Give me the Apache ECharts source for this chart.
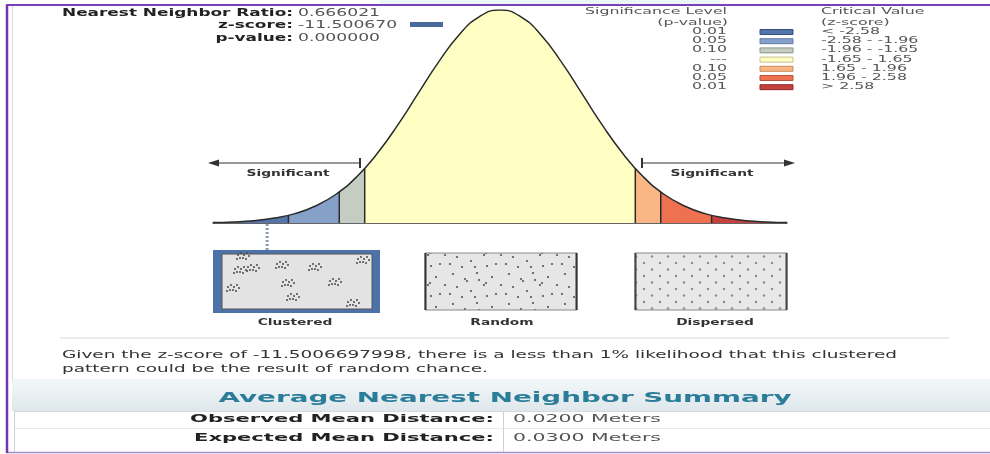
<!DOCTYPE html>
<html>
<head>
<meta charset="utf-8">
<title>Average Nearest Neighbor Summary</title>
<script src="https://cdn.jsdelivr.net/npm/echarts/dist/echarts.min.js"></script>
<style>
  html, body { margin: 0; padding: 0; background: #fff; }
  #chart { width: 990px; height: 454px; }
</style>
</head>
<body>
<div id="chart"></div>
<script>
const ratio = '0.666021';
const zScore = '-11.500670';
const pValue = '0.000000';
const zLong = '-11.5006697998';
const observedMean = '0.0200 Meters';
const expectedMean = '0.0300 Meters';

// normal curve, read at quarter steps of z (height relative to the peak)
const zSteps = [-3.5, -3.25, -3, -2.75, -2.5, -2.25, -2, -1.75, -1.5, -1.25, -1, -0.75, -0.5, -0.25, 0,
  0.25, 0.5, 0.75, 1, 1.25, 1.5, 1.75, 2, 2.25, 2.5, 2.75, 3, 3.25, 3.5];
const curveHeight = [0.002, 0.005, 0.011, 0.023, 0.044, 0.080, 0.135, 0.216, 0.325, 0.458, 0.607, 0.755, 0.883, 0.969, 1,
  0.969, 0.883, 0.755, 0.607, 0.458, 0.325, 0.216, 0.135, 0.080, 0.044, 0.023, 0.011, 0.005, 0.002];

// critical values and the curve height there
const zoneBreaks = [-2.58, -1.96, -1.65, 1.65, 1.96, 2.58];
const breakHeight = [0.036, 0.146, 0.256, 0.256, 0.146, 0.036];
const zMarker = -2.84; // pointer down to the "Clustered" picture

const sigLevels = ['0.01', '0.05', '0.10', '---', '0.10', '0.05', '0.01'];
const critValues = ['< -2.58', '-2.58 - -1.96', '-1.96 - -1.65', '-1.65 - 1.65', '1.65 - 1.96', '1.96 - 2.58', '> 2.58'];
const patternNames = ['Clustered', 'Random', 'Dispersed'];

// styles
const zoneColors = ['#5574a8', '#86a1c9', '#c5cdc2', '#ffffc4', '#f8b785', '#ee7150', '#c6413e'];
const swatchBorder = ['#34507f', '#5f7ea8', '#8e968c', '#c8c08a', '#c98c5c', '#b8503a', '#8e2a2a'];
const FONT = '"DejaVu Sans", Verdana, sans-serif';

const ctx2d = document.createElement('canvas').getContext('2d');
function textWidth(s, size, weight) {
  ctx2d.font = weight + ' ' + size + 'px ' + FONT;
  return ctx2d.measureText(s).width;
}
function scaleFor(s, w, size, weight) {
  return w / textWidth(s, size, weight || 'normal');
}
// the report text is stretched sideways, so scale it to its width
function label(s, x, y, o) {
  const size = o.size || 10;
  const weight = o.weight || 'normal';
  const sx = o.w ? scaleFor(s, o.w, size, weight) : (o.sx || 1);
  return {
    type: 'text', x: x, y: y, scaleX: sx, silent: true,
    style: {
      text: s, fontSize: size, fontWeight: weight, fontFamily: FONT,
      fill: o.color || '#222',
      textAlign: o.align || 'left', textVerticalAlign: 'middle'
    }
  };
}
function hline(x1, x2, y, color, w) {
  return { type: 'line', silent: true, shape: { x1: x1, y1: y, x2: x2, y2: y }, style: { stroke: color, lineWidth: w || 1 } };
}
function vline(x, y1, y2, color, w) {
  return { type: 'line', silent: true, shape: { x1: x, y1: y1, x2: x, y2: y2 }, style: { stroke: color, lineWidth: w || 1 } };
}
function dotPattern(w, h, dots, bg, color, r) {
  const c = document.createElement('canvas');
  c.width = w; c.height = h;
  const g = c.getContext('2d');
  g.fillStyle = bg; g.fillRect(0, 0, w, h);
  g.fillStyle = color;
  dots.forEach(function (d) { g.beginPath(); g.arc(d[0], d[1], r, 0, Math.PI * 2); g.fill(); });
  return { image: c, repeat: 'repeat' };
}

const g = [];

// frame
g.push({ type: 'rect', silent: true, shape: { x: 380, y: 0, width: 340, height: 4 }, style: { fill: '#eaf6f7' } });
g.push(hline(6, 990, 5, '#7a40b6', 2));
g.push(hline(6, 990, 452.5, '#a18ccc', 1.5));
g.push(vline(7, 5, 453, '#7437b0', 2.5));
g.push(vline(12.5, 6, 380, '#dadada', 1));

// statistics block
const boldSx = scaleFor('Nearest Neighbor Ratio:', 231, 10, 'bold');
const valSx = scaleFor(ratio, 82, 10);
g.push(label('Nearest Neighbor Ratio:', 293, 13, { weight: 'bold', sx: boldSx, align: 'right' }));
g.push(label(ratio, 298, 13, { sx: valSx, color: '#555' }));
g.push(label('z-score:', 293, 25, { weight: 'bold', sx: boldSx, align: 'right' }));
g.push(label(zScore, 298, 25, { sx: valSx, color: '#555' }));
g.push({ type: 'rect', silent: true, shape: { x: 410, y: 22, width: 33, height: 5 }, style: { fill: '#4a6a9a' } });
g.push(label('p-value:', 293, 38, { weight: 'bold', sx: boldSx, align: 'right' }));
g.push(label(pValue, 298, 38, { sx: valSx, color: '#555' }));

// legend
const legSx = scaleFor('Significance Level', 142, 8);
g.push(label('Significance Level', 585, 12, { size: 8, sx: legSx, color: '#555' }));
g.push(label('(p-value)', 728, 23, { size: 8, sx: legSx, color: '#555', align: 'right' }));
g.push(label('Critical Value', 821, 12, { size: 8, sx: legSx, color: '#555' }));
g.push(label('(z-score)', 821, 23, { size: 8, sx: legSx, color: '#555' }));
sigLevels.forEach(function (s, i) {
  const y = 32 + i * 9.2;
  g.push(label(s, 727, y, { size: 8, sx: legSx, color: '#555', align: 'right' }));
  g.push({ type: 'rect', silent: true, shape: { x: 760, y: y - 2.5, width: 33, height: 5 },
    style: { fill: zoneColors[i], stroke: swatchBorder[i], lineWidth: 1 } });
  g.push(label(critValues[i], 821, y, { size: 8, sx: legSx, color: '#555' }));
});

// arrows and region names over the curve
g.push(hline(216, 360, 163, '#333', 1.2));
g.push({ type: 'polygon', silent: true, shape: { points: [[208, 163], [219, 159.5], [219, 166.5]] }, style: { fill: '#333' } });
g.push(vline(360, 158, 168, '#333', 2));
g.push(hline(642, 786, 163, '#333', 1.2));
g.push({ type: 'polygon', silent: true, shape: { points: [[795, 163], [784, 159.5], [784, 166.5]] }, style: { fill: '#333' } });
g.push(vline(642, 158, 168, '#333', 2));
const smallSx = scaleFor('Significant', 83, 8, 'bold');
g.push(label('Significant', 288, 174, { size: 8, weight: 'bold', sx: smallSx, align: 'center', color: '#333' }));
g.push(label('Significant', 712, 174, { size: 8, weight: 'bold', sx: smallSx, align: 'center', color: '#333' }));
g.push(label('(Random)', 503, 163, { size: 8, weight: 'bold', sx: smallSx, align: 'center', color: '#333' }));

// pattern pictures
g.push({ type: 'rect', silent: true, shape: { x: 213, y: 250, width: 167, height: 63 }, style: { fill: '#4d72aa' } });
g.push({ type: 'rect', silent: true, shape: { x: 222, y: 254, width: 150, height: 55 }, style: { fill: '#e3e3e3', stroke: '#555', lineWidth: 1 } });
const clumps = [[240, 270], [253, 268], [282, 265], [315, 267], [363, 260], [233, 288], [288, 283], [335, 282], [293, 297], [353, 303], [243, 256]];
const clumpDots = [[-5, -1], [-2, -3], [1, -1], [4, -3], [6, 0], [0, 2], [-3, 2], [3, 3], [-6, 3]];
clumps.forEach(function (c) {
  clumpDots.forEach(function (d) {
    g.push({ type: 'circle', silent: true, shape: { cx: c[0] + d[0], cy: c[1] + d[1], r: 1 }, style: { fill: '#4a4a4a' } });
  });
});
const randomFill = dotPattern(56, 30, [[5, 4], [17, 9], [19, 11], [29, 3], [44, 7], [53, 15], [9, 17], [23, 21], [36, 15], [38, 13], [48, 24], [14, 27], [39, 26], [31, 10], [2, 24], [27, 27]], '#e6e6e6', '#555', 1.1);
const dispersedFill = dotPattern(16, 13, [[4, 3], [12, 9.5]], '#e8e8e8', '#8a8a8a', 1.2);
g.push({ type: 'rect', silent: true, shape: { x: 425, y: 253, width: 152, height: 57 }, style: { fill: randomFill, stroke: '#888', lineWidth: 1 } });
g.push(vline(425.5, 253, 310, '#333', 2));
g.push(vline(576.5, 253, 310, '#333', 2));
g.push({ type: 'rect', silent: true, shape: { x: 635, y: 253, width: 152, height: 57 }, style: { fill: dispersedFill, stroke: '#888', lineWidth: 1 } });
g.push(vline(635.5, 253, 310, '#444', 2));
g.push(vline(786.5, 253, 310, '#444', 2));
const nameX = [295, 502, 715];
patternNames.forEach(function (n, i) {
  g.push(label(n, nameX[i], 323, { size: 8, weight: 'bold', sx: smallSx, align: 'center', color: '#333' }));
});

// explanation
g.push(hline(60, 949, 338, '#e6e6e6', 1.5));
const line1 = 'Given the z-score of ' + zLong + ', there is a less than 1% likelihood that this clustered';
const paraSx = scaleFor(line1, 835, 11);
g.push(label(line1, 62, 355, { size: 11, sx: paraSx, color: '#333' }));
g.push(label('pattern could be the result of random chance.', 62, 369, { size: 11, sx: paraSx, color: '#333' }));

// summary table
g.push(hline(12, 990, 380, '#e4e8ea', 1));
g.push({ type: 'rect', silent: true, shape: { x: 12, y: 381, width: 978, height: 30 },
  style: { fill: { type: 'linear', x: 0, y: 0, x2: 0, y2: 1, colorStops: [{ offset: 0, color: '#f2f6f8' }, { offset: 1, color: '#dee7ec' }] } } });
g.push(label('Average Nearest Neighbor Summary', 505, 398, { size: 14, weight: 'bold', w: 573, align: 'center', color: '#2b7d9a' }));
g.push(hline(14, 990, 411.5, '#d5dadd', 1));
g.push(hline(14, 990, 428.5, '#e8e8e8', 1));
g.push(vline(14.5, 411, 452, '#cfcfcf', 1));
g.push(vline(503.5, 411, 452, '#cfcfcf', 1));
const rowSx = scaleFor('Observed Mean Distance:', 304, 11, 'bold');
const rowValSx = scaleFor(observedMean, 148, 11);
g.push(label('Observed Mean Distance:', 494, 419, { size: 11, weight: 'bold', sx: rowSx, align: 'right' }));
g.push(label(observedMean, 513, 419, { size: 11, sx: rowValSx, color: '#555' }));
g.push(label('Expected Mean Distance:', 494, 438, { size: 11, weight: 'bold', sx: rowSx, align: 'right' }));
g.push(label(expectedMean, 513, 438, { size: 11, sx: rowValSx, color: '#555' }));

const chart = echarts.init(document.getElementById('chart'));
chart.setOption({
  animation: false,
  grid: { left: 213, top: 10, width: 574, height: 213 },
  xAxis: {
    type: 'value', min: -3.5, max: 3.5,
    axisLine: { show: true, lineStyle: { color: '#333', width: 1.5 } },
    axisTick: { show: false }, axisLabel: { show: false }, splitLine: { show: false }
  },
  yAxis: { type: 'value', min: 0, max: 1, show: false },
  visualMap: {
    type: 'piecewise', show: false, dimension: 0, seriesIndex: 0,
    pieces: [
      { lt: zoneBreaks[0], color: zoneColors[0] },
      { gte: zoneBreaks[0], lt: zoneBreaks[1], color: zoneColors[1] },
      { gte: zoneBreaks[1], lt: zoneBreaks[2], color: zoneColors[2] },
      { gte: zoneBreaks[2], lte: zoneBreaks[3], color: zoneColors[3] },
      { gt: zoneBreaks[3], lte: zoneBreaks[4], color: zoneColors[4] },
      { gt: zoneBreaks[4], lte: zoneBreaks[5], color: zoneColors[5] },
      { gt: zoneBreaks[5], color: zoneColors[6] }
    ]
  },
  series: [
    {
      type: 'line',
      data: zSteps.map(function (z, i) { return [z, curveHeight[i]]; }),
      smooth: 0.5, symbol: 'none',
      lineStyle: { color: '#2a2a2a', width: 1.5 },
      areaStyle: { opacity: 1 },
      z: 2
    },
    {
      type: 'custom', z: 3,
      data: zoneBreaks.map(function (z, i) { return [z, breakHeight[i]]; }),
      renderItem: function (params, api) {
        const p0 = api.coord([api.value(0), 0]);
        const p1 = api.coord([api.value(0), api.value(1)]);
        return { type: 'line', shape: { x1: p0[0], y1: p0[1], x2: p1[0], y2: p1[1] }, style: { stroke: '#2a2a2a', lineWidth: 1.5 } };
      }
    },
    {
      type: 'custom', z: 3, clip: false,
      data: [[zMarker, 0]],
      renderItem: function (params, api) {
        const p = api.coord([api.value(0), 0]);
        return { type: 'line', shape: { x1: p[0], y1: p[1] + 1, x2: p[0], y2: p[1] + 27 }, style: { stroke: '#8a9ab2', lineWidth: 3, lineDash: [2, 2] } };
      }
    }
  ],
  graphic: { elements: g }
});
window.addEventListener('resize', function () { chart.resize(); });
</script>
</body>
</html>
